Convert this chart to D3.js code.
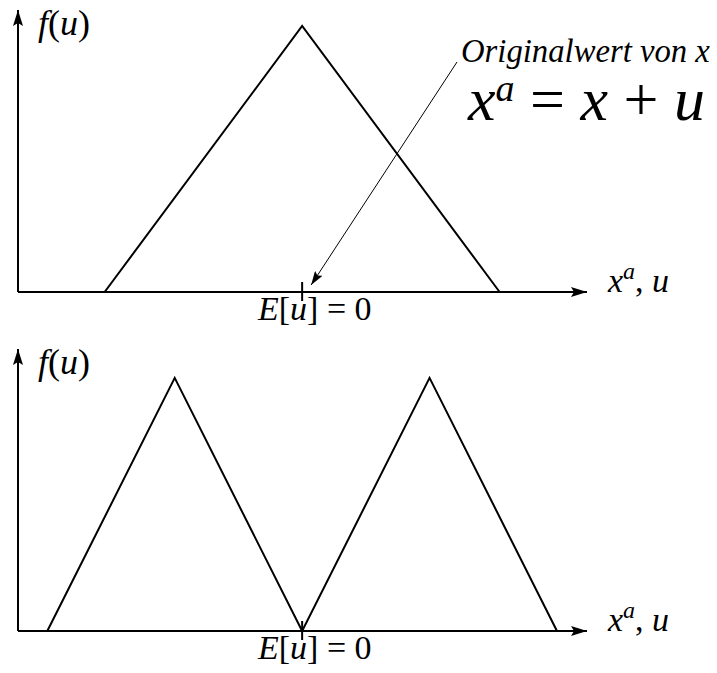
<!DOCTYPE html>
<html>
<head>
<meta charset="utf-8">
<script src="https://cdn.jsdelivr.net/npm/d3@7"></script>
</head>
<body style="margin:0">
<svg id="chart" width="717" height="673"></svg>
<script>
// u positions and density heights of the two sketches
const topU = [-1.55, 0, 1.55];
const topF = [0, 0.95, 0];
const botU = [-2, -1, 0, 1, 2];
const botF = [0, 0.904, 0, 0.904, 0];
const meanU = 0;

const svg = d3.select('#chart');
const xs = d3.scaleLinear().domain([-2.23, 2.22]).range([18, 585]);
const SP = '\u00a0';

// one text element per piece, laid side by side
function mathRun(sel, x, y, size, parts) {
    var cx = x;
    parts.forEach(function (p) {
        var s = p.size || size;
        var t = sel.append('text')
            .attr('x', cx).attr('y', y + (p.dy || 0))
            .attr('font-family', 'Times New Roman')
            .attr('font-style', p.up ? 'normal' : 'italic')
            .attr('font-size', s)
            .attr('fill', '#000')
            .text(p.t);
        cx += t.node().getComputedTextLength();
    });
}

var defs = svg.append('defs');
defs.append('marker')
    .attr('id', 'head')
    .attr('viewBox', '0 0 16 10')
    .attr('refX', 16).attr('refY', 5)
    .attr('markerWidth', 16).attr('markerHeight', 10)
    .attr('markerUnits', 'userSpaceOnUse')
    .attr('orient', 'auto')
  .append('path').attr('d', 'M0,0 L16,5 L0,10 L3,5 Z').attr('fill', '#000');
defs.append('marker')
    .attr('id', 'small')
    .attr('viewBox', '0 0 14 9')
    .attr('refX', 14).attr('refY', 4.5)
    .attr('markerWidth', 14).attr('markerHeight', 9)
    .attr('markerUnits', 'userSpaceOnUse')
    .attr('orient', 'auto')
  .append('path').attr('d', 'M0,0 L14,4.5 L0,9 L2.5,4.5 Z').attr('fill', '#000');

function panel(base, us, fs) {
    var ys = d3.scaleLinear().domain([0, 1]).range([base, base - 280]);
    var g = svg.append('g');
    // axes
    g.append('line').attr('x1', 18).attr('y1', base).attr('x2', 587).attr('y2', base)
        .attr('stroke', '#000').attr('stroke-width', 2).attr('marker-end', 'url(#head)');
    g.append('line').attr('x1', 18).attr('y1', base).attr('x2', 18).attr('y2', base - 282)
        .attr('stroke', '#000').attr('stroke-width', 2).attr('marker-end', 'url(#head)');
    // density
    var line = d3.line().x(function (d, i) { return xs(us[i]); }).y(function (d) { return ys(d); });
    g.append('path').attr('d', line(fs))
        .attr('fill', 'none').attr('stroke', '#000').attr('stroke-width', 2);
    // tick at E[u]
    g.append('line').attr('x1', xs(meanU)).attr('x2', xs(meanU))
        .attr('y1', base - 10).attr('y2', base + 9)
        .attr('stroke', '#000').attr('stroke-width', 2);
    // labels
    mathRun(g, 38, base - 257, 36, [{t: 'f'}, {t: '(', up: 1}, {t: 'u'}, {t: ')', up: 1}]);
    mathRun(g, 608, base, 34, [{t: 'x'}, {t: 'a', size: 24, dy: -13}, {t: ',' + SP, up: 1}, {t: 'u'}]);
    mathRun(g, 258, base + 28, 34, [{t: 'E'}, {t: '[', up: 1}, {t: 'u'}, {t: ']' + SP + '=' + SP + '0', up: 1}]);
    return ys;
}

panel(292, topU, topF);
panel(631, botU, botF);

// annotation
svg.append('line').attr('x1', 457).attr('y1', 62).attr('x2', xs(meanU) + 9).attr('y2', 285)
    .attr('stroke', '#000').attr('stroke-width', 1).attr('marker-end', 'url(#small)');
var orig = svg.append('text').attr('x', 461).attr('y', 62)
    .attr('font-family', 'Times New Roman').attr('font-style', 'italic')
    .attr('font-size', 25).text('Originalwert von x');
orig.attr('font-size', 25 * 249 / orig.node().getComputedTextLength());

mathRun(svg, 468, 120, 62, [{t: 'x'}, {t: 'a', size: 38, dy: -19}, {t: SP + '=' + SP, up: 1},
    {t: 'x'}, {t: SP + '+' + SP, up: 1}, {t: 'u'}]);
</script>
</body>
</html>
